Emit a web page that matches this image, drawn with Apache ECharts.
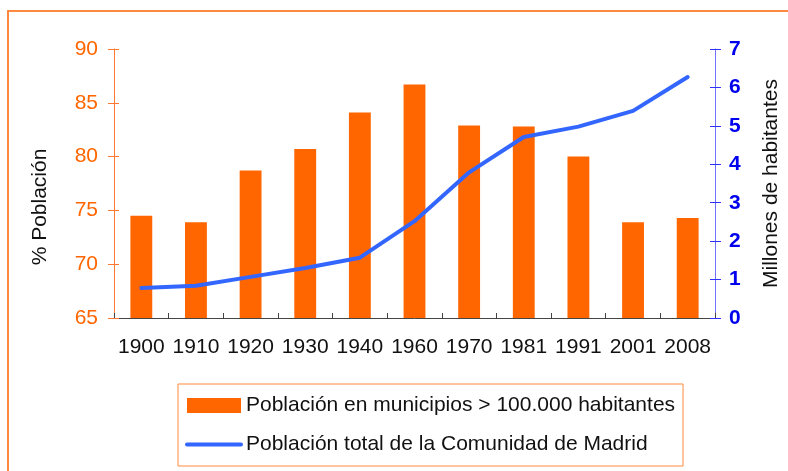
<!DOCTYPE html>
<html>
<head>
<meta charset="utf-8">
<script src="https://cdn.jsdelivr.net/npm/echarts@6/dist/echarts.min.js"></script>
<style>
  html, body { margin: 0; padding: 0; background: #fff; overflow: hidden; }
  #chart { width: 788px; height: 471px; }
</style>
</head>
<body>
<div id="chart"></div>
<script>
// Madrid: share of population living in municipalities > 100,000 (bars, left %)
// vs. total population of the Comunidad (line, right axis, millions).
const years = ['1900', '1910', '1920', '1930', '1940', '1960', '1970', '1981', '1991', '2001', '2008'];
const pctBig = [74.5, 73.9, 78.7, 80.7, 84.1, 86.7, 82.9, 82.8, 80.0, 73.9, 74.3];
const totalMillions = [0.78, 0.84, 1.07, 1.3, 1.57, 2.52, 3.79, 4.71, 4.98, 5.39, 6.27];

const barName = 'Población en municipios > 100.000 habitantes';
const lineName = 'Población total de la Comunidad de Madrid';

const FONT = '"Liberation Sans", Arial, sans-serif';
const ORANGE = '#FF6600';
const BLUE = '#3366FF';

// ticks in Excel cross the axis line; a second, label-less axis draws the inner half
const innerTicks = (color, len) => ({
  show: true, inside: true, length: len, lineStyle: { color },
});

const chart = echarts.init(document.getElementById('chart'), null, { renderer: 'canvas' });
chart.setOption({
  animation: false,
  textStyle: { fontFamily: FONT },
  grid: { left: 114, right: 73, top: 49, bottom: 153, outerBoundsMode: 'none' },
  legend: {
    orient: 'vertical', left: 178, top: 384,
    padding: [11, 8, 11, 7], itemGap: 18,
    itemWidth: 54, itemHeight: 15,
    borderColor: '#FF8A3D', borderWidth: 1,
    textStyle: { fontSize: 21, color: '#111', fontFamily: FONT },
    data: [
      { name: barName, icon: 'rect' },
      { name: lineName, itemStyle: { opacity: 0 }, lineStyle: { width: 4 } },
    ],
  },
  graphic: [
    // outer chart-area frame (runs off the right/bottom edge)
    { type: 'rect', shape: { x: 8, y: 11, width: 820, height: 520 },
      style: { fill: 'none', stroke: '#FF8A3D', lineWidth: 2 }, silent: true },
    { type: 'text', x: 40, y: 207, rotation: Math.PI / 2,
      style: { text: '% Población', fontSize: 21, fontFamily: FONT, fill: '#111',
        textAlign: 'center', textVerticalAlign: 'middle' } },
  ],
  xAxis: [
    {
      type: 'category', data: years,
      axisLine: { lineStyle: { color: '#444', width: 1 } },
      axisTick: { length: 7, lineStyle: { color: '#444' } },
      axisLabel: { fontSize: 21, color: '#111', margin: 19, interval: 0, fontFamily: FONT },
    },
    {
      type: 'category', data: years, position: 'bottom',
      axisLine: { show: false }, axisLabel: { show: false },
      axisTick: innerTicks('#444', 5),
    },
  ],
  yAxis: [
    {
      type: 'value', min: 65, max: 90, interval: 5, position: 'left',
      axisLine: { show: true, lineStyle: { color: '#FF7A30' } },
      axisTick: { show: true, length: 6, lineStyle: { color: '#FF7A30' } },
      axisLabel: { fontSize: 21, color: ORANGE, margin: 16, fontFamily: FONT },
      splitLine: { show: false },
    },
    {
      type: 'value', min: 0, max: 7, interval: 1, position: 'right',
      name: 'Millones de habitantes', nameLocation: 'middle', nameGap: 46, nameRotate: 90,
      nameTextStyle: { fontSize: 21, color: '#111', fontFamily: FONT },
      axisLine: { show: true, lineStyle: { color: '#7070FF' } },
      axisTick: { show: true, length: 6, lineStyle: { color: '#3030FF' } },
      axisLabel: { fontSize: 21, fontWeight: 'bold', color: '#0000EE', margin: 14, fontFamily: FONT },
      splitLine: { show: false },
    },
    {
      type: 'value', min: 65, max: 90, interval: 5, position: 'left',
      axisLine: { show: false }, axisLabel: { show: false }, splitLine: { show: false },
      axisTick: innerTicks('#FF7A30', 5),
    },
    {
      type: 'value', min: 0, max: 7, interval: 1, position: 'right',
      axisLine: { show: false }, axisLabel: { show: false }, splitLine: { show: false },
      axisTick: innerTicks('#3030FF', 5),
    },
  ],
  series: [
    {
      name: barName, type: 'bar', yAxisIndex: 0, data: pctBig,
      barWidth: '40%', itemStyle: { color: ORANGE },
    },
    {
      name: lineName, type: 'line', yAxisIndex: 1, data: totalMillions,
      symbol: 'none', lineStyle: { color: BLUE, width: 4, join: 'round', cap: 'round' },
      itemStyle: { color: BLUE }, z: 3,
    },
  ],
});
</script>
</body>
</html>
